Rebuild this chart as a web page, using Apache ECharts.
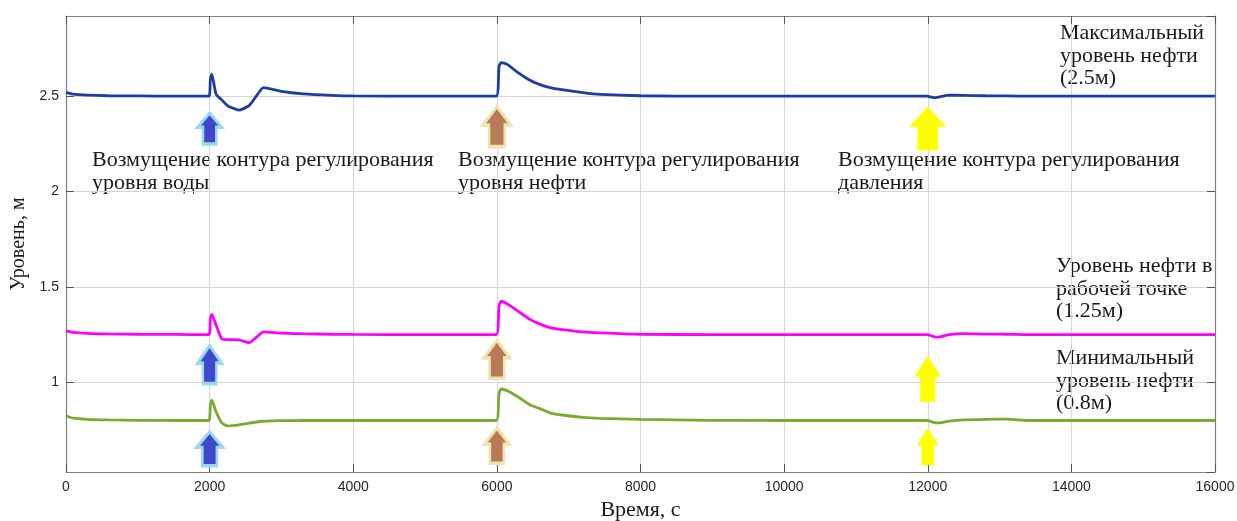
<!DOCTYPE html>
<html>
<head>
<meta charset="utf-8">
<script src="https://cdn.jsdelivr.net/npm/echarts@6/dist/echarts.min.js"></script>
<style>
html,body{margin:0;padding:0;background:#fff;}
#chart{width:1237px;height:521px;}
</style>
</head>
<body>
<div id="chart"></div>
<script>
// ---- data ----
const times = [0,100,300,600,1000,1500,1990,2010,2030,2090,2170,2250,2410,2550,2650,2750,3000,3300,3700,4000,5000,5990,6030,6060,6150,6280,6460,6600,6740,6880,7200,7440,8000,9000,10000,11990,12080,12150,12300,12500,12800,13100,13400,14000,15000,16000];
const maxLevel = [2.52,2.51,2.505,2.502,2.501,2.5,2.5,2.585,2.615,2.51,2.48,2.45,2.427,2.45,2.50,2.545,2.525,2.512,2.504,2.501,2.5,2.5,2.655,2.676,2.665,2.627,2.583,2.56,2.545,2.535,2.518,2.509,2.502,2.5,2.5,2.5,2.492,2.495,2.505,2.504,2.502,2.501,2.5,2.5,2.5,2.5];
const workLevel = [1.27,1.262,1.257,1.254,1.252,1.251,1.25,1.33,1.356,1.30,1.228,1.224,1.222,1.208,1.235,1.264,1.258,1.255,1.252,1.251,1.25,1.25,1.40,1.425,1.41,1.377,1.33,1.305,1.287,1.278,1.264,1.259,1.252,1.25,1.25,1.25,1.24,1.237,1.25,1.255,1.253,1.252,1.25,1.25,1.25,1.25];
const minLevel = [0.825,0.812,0.806,0.803,0.801,0.8,0.8,0.88,0.906,0.845,0.788,0.772,0.777,0.786,0.792,0.796,0.799,0.8,0.8,0.8,0.8,0.8,0.94,0.965,0.955,0.927,0.882,0.862,0.84,0.83,0.816,0.811,0.806,0.801,0.8,0.8,0.79,0.787,0.797,0.803,0.806,0.807,0.8,0.8,0.8,0.8];
const xTicks = [0,2000,4000,6000,8000,10000,12000,14000,16000];
const yTicks = [1,1.5,2,2.5];
// disturbance arrows: time of disturbance, level of arrow centre
const arrowTimes = [2000,2000,2000,6000,6000,6000,12000,12000,12000];
const arrowLevels = [2.33,1.093,0.652,2.34,1.12,0.668,2.33,1.019,0.663];
const seriesNames = ['Максимальный уровень нефти (2.5м)','Уровень нефти в рабочей точке (1.25м)','Минимальный уровень нефти (0.8м)'];

// ---- styles ----
const arrowPath = 'path://M50,0 L100,46 L78,46 L78,100 L22,100 L22,46 L0,46 Z';
const arrowSizes = [[24,31],[24,38],[26,34],[28,40],[26,38],[25,35],[37,44],[27,46],[22,37]];
const arrowStyles = [
  {color:'#3f48cc',borderColor:'#99d9ea',borderWidth:3,opacity:1},
  {color:'#b97a57',borderColor:'#efe4b0',borderWidth:3,opacity:1},
  {color:'#ffff00',borderWidth:0,opacity:1}
];
const serif = '"Liberation Serif", "DejaVu Serif", serif';
const sans = '"Liberation Sans", Arial, sans-serif';

function pairs(vals){ return times.map((t,i)=>[t, vals[i]]); }

const arrowSeries = [0,1,2].map(g => ({
  type:'scatter', silent:true, z:3,
  symbol: arrowPath,
  itemStyle: arrowStyles[g],
  data: [0,1,2].map(k => {
    const i = g*3+k;
    return {value:[arrowTimes[i], arrowLevels[i]], symbolSize: arrowSizes[i], itemStyle: arrowStyles[g]};
  }),
  emphasis:{disabled:true}
}));

const lineColors = ['#1f3c9f','#ff00ff','#77ac30'];
const lineSeries = [maxLevel, workLevel, minLevel].map((v,i) => ({
  name: seriesNames[i], type:'line', data: pairs(v), showSymbol:false, smooth:0.2,
  lineStyle:{color:lineColors[i], width:2.8}, z:4, silent:true
}));

function textBlock(x, y, txt){
  return {type:'text', left:x, top:y, silent:true,
    style:{text:txt, font:'22px '+serif, fill:'#1a1a1a', lineHeight:22.5}};
}

const option = {
  animation:false,
  backgroundColor:'#ffffff',
  grid:{left:66,right:22,top:16,bottom:49,show:false,containLabel:false,outerBoundsMode:'none'},
  xAxis:[{
    type:'value', min:0, max:16000, interval:2000,
    name:'Время, с', nameLocation:'middle', nameGap:26,
    nameTextStyle:{fontFamily:serif, fontSize:22, color:'#1a1a1a'},
    axisLine:{show:true, lineStyle:{color:'#7f7f7f', width:1.2}},
    axisTick:{show:true, inside:true, length:8, lineStyle:{color:'#555'}},
    axisLabel:{fontFamily:sans, fontSize:14, color:'#262626', margin:8,
      formatter: v => xTicks.includes(v) ? String(v) : ''},
    splitLine:{show:true, lineStyle:{color:'#d6d6d6', width:1}}
  },{
    type:'value', min:0, max:16000, interval:2000, position:'top',
    axisLine:{show:true, onZero:false, lineStyle:{color:'#7f7f7f', width:1.2}},
    axisTick:{show:true, inside:true, length:8, lineStyle:{color:'#555'}},
    axisLabel:{show:false}, splitLine:{show:false}
  }],
  yAxis:[{
    type:'value', min:0.53, max:2.92, minInterval:0.5, maxInterval:0.5,
    name:'Уровень, м', nameLocation:'middle', nameGap:34, nameRotate:90,
    nameTextStyle:{fontFamily:serif, fontSize:20, color:'#1a1a1a'},
    axisLine:{show:true, lineStyle:{color:'#7f7f7f', width:1.2}},
    axisTick:{show:true, inside:true, length:8, lineStyle:{color:'#555'}},
    axisLabel:{fontFamily:sans, fontSize:14, color:'#262626', margin:7,
      showMinLabel:false, showMaxLabel:false,
      formatter: v => yTicks.some(t => Math.abs(t-v)<1e-6) ? String(v) : ''},
    splitLine:{show:true, lineStyle:{color:'#d6d6d6', width:1}}
  },{
    type:'value', min:0.53, max:2.92, minInterval:0.5, maxInterval:0.5, position:'right',
    axisLine:{show:true, onZero:false, lineStyle:{color:'#7f7f7f', width:1.2}},
    axisTick:{show:true, inside:true, length:8, lineStyle:{color:'#555'}},
    axisLabel:{show:false}, splitLine:{show:false}
  }],
  graphic:[
    textBlock(92, 149, 'Возмущение контура регулирования\nуровня воды'),
    textBlock(458, 149, 'Возмущение контура регулирования\nуровня нефти'),
    textBlock(838, 149, 'Возмущение контура регулирования\nдавления'),
    textBlock(1060, 22, 'Максимальный\nуровень нефти\n(2.5м)'),
    textBlock(1056, 255, 'Уровень нефти в\nрабочей точке\n(1.25м)'),
    textBlock(1056, 347, 'Минимальный\nуровень нефти\n(0.8м)')
  ],
  series: lineSeries.concat(arrowSeries)
};

const chart = echarts.init(document.getElementById('chart'), null, {renderer:'canvas'});
chart.setOption(option);
</script>
</body>
</html>
